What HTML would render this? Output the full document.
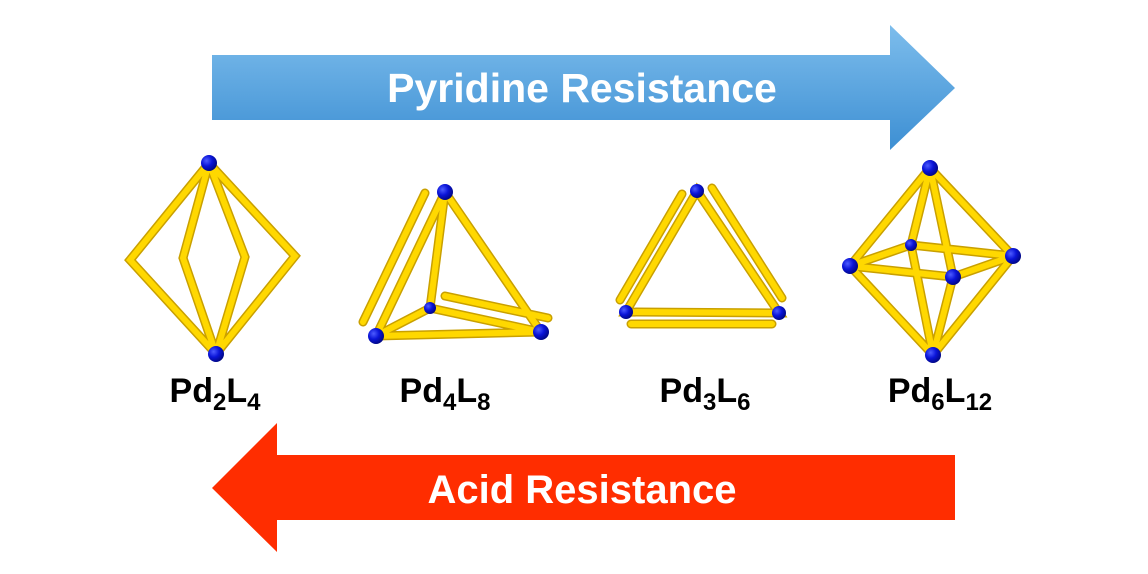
<!DOCTYPE html>
<html><head><meta charset="utf-8"><style>
html,body{margin:0;padding:0;background:#fff;width:1148px;height:574px;overflow:hidden}
svg{display:block}
</style></head><body>
<svg width="1148" height="574" viewBox="0 0 1148 574" xmlns="http://www.w3.org/2000/svg">
<defs>
<linearGradient id="bl" x1="0" y1="0" x2="0" y2="1">
<stop offset="0" stop-color="#7dbdec"/><stop offset="1" stop-color="#3d8fd3"/></linearGradient>
<radialGradient id="ball" cx="0.35" cy="0.35" r="0.7">
<stop offset="0" stop-color="#4d5cff"/><stop offset="0.5" stop-color="#0a14d8"/><stop offset="1" stop-color="#000680"/></radialGradient>
</defs>
<polygon points="212,55 890,55 890,25 955,88 890,150 890,120 212,120" fill="url(#bl)"/>
<text x="582" y="102" text-anchor="middle" font-family="Liberation Sans, sans-serif" font-weight="bold" font-size="41" fill="#fff">Pyridine Resistance</text>
<polygon points="955,455 277,455 277,423 212,488 277,552 277,520 955,520" fill="#ff2d00"/>
<text x="582" y="503" text-anchor="middle" font-family="Liberation Sans, sans-serif" font-weight="bold" font-size="40" fill="#fff">Acid Resistance</text>
<g stroke="#c9a000" stroke-width="9" stroke-linecap="round" fill="none">
<path id="r" d="M209,163 L130,260 L216,354 M209,163 L295,256 L216,354 M209,163 L183,258 L216,354 M209,163 L245,257 L216,354
M445,192 L376,336 M445,192 L541,332 M445,192 L430,308 M376,336 L541,332 M376,336 L430,308 L541,332 M425,193 L363,322 M445,296 L548,318
M697,191 L626,312 L779,313 Z M682,194 L620,300 M712,188 L782,298 M631,324 L772,324
M930,168 L850,266 M930,168 L1013,256 M930,168 L953,277 M930,168 L911,245 M933,355 L850,266 M933,355 L1013,256 M933,355 L953,277 M933,355 L911,245 M850,266 L911,245 L1013,256 L953,277 Z"/>
</g>
<use href="#r" stroke="#ffd800" stroke-width="6" fill="none" stroke-linecap="round"/>
<g fill="url(#ball)">
<circle cx="209" cy="163" r="8"/><circle cx="216" cy="354" r="8"/>
<circle cx="445" cy="192" r="8"/><circle cx="376" cy="336" r="8"/><circle cx="541" cy="332" r="8"/><circle cx="430" cy="308" r="6"/>
<circle cx="697" cy="191" r="7"/><circle cx="626" cy="312" r="7"/><circle cx="779" cy="313" r="7"/>
<circle cx="930" cy="168" r="8"/><circle cx="933" cy="355" r="8"/><circle cx="850" cy="266" r="8"/><circle cx="1013" cy="256" r="8"/><circle cx="953" cy="277" r="8"/><circle cx="911" cy="245" r="6"/>
</g>
<g font-family="Liberation Sans, sans-serif" font-weight="bold" font-size="34" fill="#000" text-anchor="middle">
<text x="215" y="402">Pd<tspan font-size="24" dy="8">2</tspan><tspan dy="-8">L</tspan><tspan font-size="24" dy="8">4</tspan></text>
<text x="445" y="402">Pd<tspan font-size="24" dy="8">4</tspan><tspan dy="-8">L</tspan><tspan font-size="24" dy="8">8</tspan></text>
<text x="705" y="402">Pd<tspan font-size="24" dy="8">3</tspan><tspan dy="-8">L</tspan><tspan font-size="24" dy="8">6</tspan></text>
<text x="940" y="402">Pd<tspan font-size="24" dy="8">6</tspan><tspan dy="-8">L</tspan><tspan font-size="24" dy="8">12</tspan></text>
</g>
</svg>
</body></html>
